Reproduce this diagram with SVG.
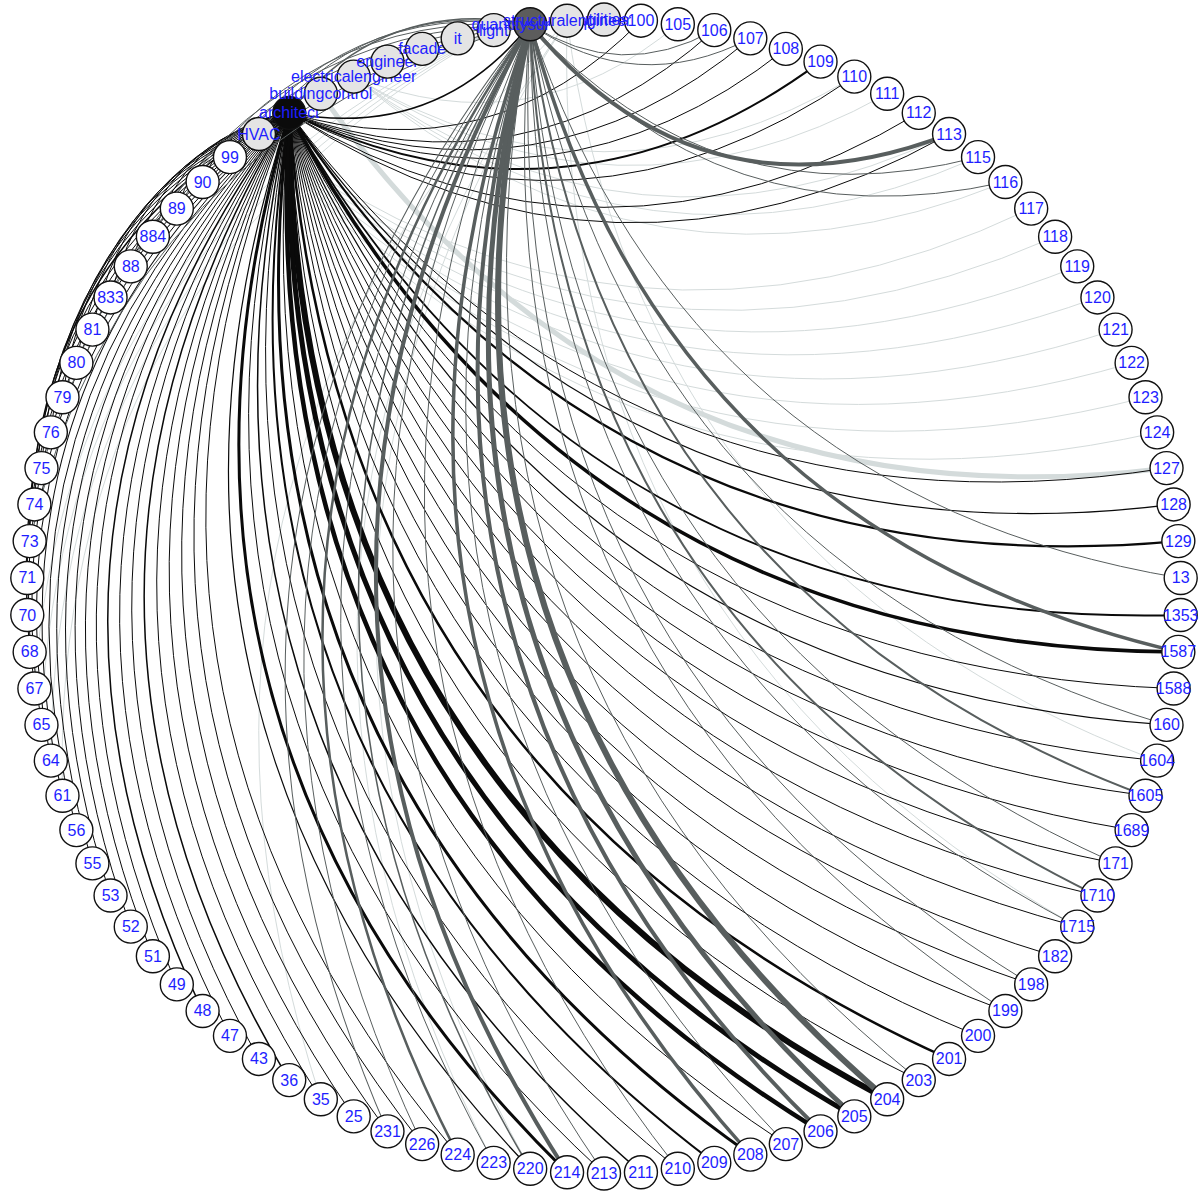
<svg xmlns="http://www.w3.org/2000/svg" width="1204" height="1196" viewBox="0 0 1204 1196">
<style>
.e path{fill:none;vector-effect:non-scaling-stroke}
.n circle{stroke:#111;stroke-width:1.4;fill:#fff}
.r circle{fill:#e4e4e4}
.arch circle{fill:#0b0b0b}
.qs circle{fill:#5c5c5c}
.n text{font-family:"Liberation Sans",Arial,sans-serif;font-size:16px;fill:#1e1eff;text-anchor:middle}
</style>
<rect width="1204" height="1196" fill="#fff"/>
<g id="connectors" class="e">
<g id="light-edges" stroke="#d4dbdb" stroke-width="1">
<g transform="translate(604 596.5) rotate(233.27) translate(577 0)">
<path d="M0 0Q.5 .3 1 0" transform="rotate(132.24)scale(775.8)"/>
<path d="M0 0Q.5 .3 1 0" transform="rotate(134.08)scale(802.8)"/>
<path d="M0 0Q.5 .3 1 0" transform="rotate(135.92)scale(829)"/>
<path d="M0 0Q.5 .3 1 0" transform="rotate(137.76)scale(854.3)"/>
<path d="M0 0Q.5 .3 1 0" transform="rotate(139.59)scale(878.7)"/>
<path d="M0 0Q.5 .3 1 0" transform="rotate(141.43)scale(902.2)"/>
<path d="M0 0Q.5 .3 1 0" transform="rotate(143.27)scale(924.8)"/>
<path d="M0 0Q.5 .3 1 0" transform="rotate(145.1)scale(946.5)"/>
</g>
<g transform="translate(604 596.5) rotate(244.29) translate(577 0)">
<path d="M0 0Q.5 .3 1 0" transform="rotate(106.53)scale(328.3)"/>
<path d="M0 0Q.5 .3 1 0" transform="rotate(115.71)scale(500.7)"/>
<path d="M0 0Q.5 .3 1 0" transform="rotate(117.55)scale(533.8)"/>
<path d="M0 0Q.5 .3 1 0" transform="rotate(121.22)scale(598.2)"/>
<path d="M0 0Q.5 .3 1 0" transform="rotate(123.06)scale(629.5)"/>
<path d="M0 0Q.5 .3 1 0" transform="rotate(124.9)scale(660.2)"/>
</g>
<g transform="translate(604 596.5) rotate(240.61) translate(577 0)">
<path d="M0 0Q.5 .3 1 0" transform="rotate(143.27)scale(924.8)" stroke-width="5"/>
</g>
<g transform="translate(604 596.5) rotate(266.33) translate(577 0)">
<path d="M0 0Q.5 .3 1 0" transform="rotate(145.1)scale(946.5)"/>
<path d="M0 0Q.5 .3 1 0" transform="rotate(154.29)scale(1039.7)"/>
<path d="M0 0Q.5 .3 1 0" transform="rotate(196.53)scale(1106.3)"/>
<path d="M0 0Q.5 .3 1 0" transform="rotate(187.35)scale(1144.5)"/>
<path d="M0 0Q.5 .3 1 0" transform="rotate(185.51)scale(1148.7)"/>
</g>
<g transform="translate(604 596.5) rotate(258.98) translate(577 0)">
<path d="M0 0Q.5 .3 1 0" transform="rotate(220.41)scale(878.7)"/>
<path d="M0 0Q.5 .3 1 0" transform="rotate(222.24)scale(854.3)"/>
<path d="M0 0Q.5 .3 1 0" transform="rotate(224.08)scale(829)"/>
<path d="M0 0Q.5 .3 1 0" transform="rotate(225.92)scale(802.8)"/>
</g>
</g>
<g id="architect-edges" stroke="#0a0a0a" stroke-width="1" transform="translate(604 596.5) rotate(236.94) translate(577 0)">
<path d="M0 0Q.5 .3 1 0" transform="rotate(108.37)scale(363.6)"/>
<path d="M0 0Q.5 .3 1 0" transform="rotate(112.04)scale(433.1)"/>
<path d="M0 0Q.5 .3 1 0" transform="rotate(113.88)scale(467.1)"/>
<path d="M0 0Q.5 .3 1 0" transform="rotate(115.71)scale(500.7)"/>
<path d="M0 0Q.5 .3 1 0" transform="rotate(117.55)scale(533.8)" stroke-width="2"/>
<path d="M0 0Q.5 .3 1 0" transform="rotate(119.39)scale(566.3)"/>
<path d="M0 0Q.5 .3 1 0" transform="rotate(123.06)scale(629.5)"/>
<path d="M0 0Q.5 .3 1 0" transform="rotate(124.9)scale(660.2)"/>
<path d="M0 0Q.5 .3 1 0" transform="rotate(145.1)scale(946.5)"/>
<path d="M0 0Q.5 .3 1 0" transform="rotate(146.94)scale(967.2)" stroke-width="1.2"/>
<path d="M0 0Q.5 .3 1 0" transform="rotate(148.78)scale(986.8)" stroke-width="2.2"/>
<path d="M0 0Q.5 .3 1 0" transform="rotate(152.45)scale(1023.1)" stroke-width="1.8"/>
<path d="M0 0Q.5 .3 1 0" transform="rotate(154.29)scale(1039.7)" stroke-width="3.5"/>
<path d="M0 0Q.5 .3 1 0" transform="rotate(156.12)scale(1055.2)"/>
<path d="M0 0Q.5 .3 1 0" transform="rotate(157.96)scale(1069.7)" stroke-width="1.2"/>
<path d="M0 0Q.5 .3 1 0" transform="rotate(159.8)scale(1083)"/>
<path d="M0 0Q.5 .3 1 0" transform="rotate(161.63)scale(1095.2)"/>
<path d="M0 0Q.5 .3 1 0" transform="rotate(163.47)scale(1106.3)"/>
<path d="M0 0Q.5 .3 1 0" transform="rotate(165.31)scale(1116.3)"/>
<path d="M0 0Q.5 .3 1 0" transform="rotate(167.14)scale(1125.1)"/>
<path d="M0 0Q.5 .3 1 0" transform="rotate(168.98)scale(1132.7)"/>
<path d="M0 0Q.5 .3 1 0" transform="rotate(170.82)scale(1139.2)"/>
<path d="M0 0Q.5 .3 1 0" transform="rotate(172.65)scale(1144.5)"/>
<path d="M0 0Q.5 .3 1 0" transform="rotate(174.49)scale(1148.7)"/>
<path d="M0 0Q.5 .3 1 0" transform="rotate(176.33)scale(1151.6)"/>
<path d="M0 0Q.5 .3 1 0" transform="rotate(178.16)scale(1153.4)" stroke-width="2.5"/>
<path d="M0 0Q.5 .3 1 0" transform="rotate(180)scale(1154)"/>
<path d="M0 0Q.5 .3 1 0" transform="rotate(181.84)scale(1153.4)" stroke-width="6"/>
<path d="M0 0Q.5 .3 1 0" transform="rotate(183.67)scale(1151.6)" stroke-width="5"/>
<path d="M0 0Q.5 .3 1 0" transform="rotate(185.51)scale(1148.7)" stroke-width="4.5"/>
<path d="M0 0Q.5 .3 1 0" transform="rotate(187.35)scale(1144.5)"/>
<path d="M0 0Q.5 .3 1 0" transform="rotate(189.18)scale(1139.2)" stroke-width="3"/>
<path d="M0 0Q.5 .3 1 0" transform="rotate(191.02)scale(1132.7)" stroke-width="2"/>
<path d="M0 0Q.5 .3 1 0" transform="rotate(192.86)scale(1125.1)"/>
<path d="M0 0Q.5 .3 1 0" transform="rotate(194.69)scale(1116.3)" stroke-width="1.5"/>
<path d="M0 0Q.5 .3 1 0" transform="rotate(196.53)scale(1106.3)"/>
<path d="M0 0Q.5 .3 1 0" transform="rotate(198.37)scale(1095.2)" stroke-width="3"/>
<path d="M0 0Q.5 .3 1 0" transform="rotate(200.2)scale(1083)" stroke-width="1.2"/>
<path d="M0 0Q.5 .3 1 0" transform="rotate(203.88)scale(1055.2)"/>
<path d="M0 0Q.5 .3 1 0" transform="rotate(205.71)scale(1039.7)"/>
<path d="M0 0Q.5 .3 1 0" transform="rotate(207.55)scale(1023.1)"/>
<path d="M0 0Q.5 .3 1 0" transform="rotate(209.39)scale(1005.5)"/>
<path d="M0 0Q.5 .3 1 0" transform="rotate(211.22)scale(986.8)"/>
<path d="M0 0Q.5 .3 1 0" transform="rotate(213.06)scale(967.2)" stroke-width="1.5"/>
<path d="M0 0Q.5 .3 1 0" transform="rotate(214.9)scale(946.5)"/>
<path d="M0 0Q.5 .3 1 0" transform="rotate(216.73)scale(924.8)"/>
<path d="M0 0Q.5 .3 1 0" transform="rotate(218.57)scale(902.2)" stroke-width="1.5"/>
<path d="M0 0Q.5 .3 1 0" transform="rotate(220.41)scale(878.7)"/>
<path d="M0 0Q.5 .3 1 0" transform="rotate(222.24)scale(854.3)"/>
<path d="M0 0Q.5 .3 1 0" transform="rotate(224.08)scale(829)"/>
<path d="M0 0Q.5 .3 1 0" transform="rotate(225.92)scale(802.8)"/>
<path d="M0 0Q.5 .3 1 0" transform="rotate(227.76)scale(775.8)"/>
<path d="M0 0Q.5 .3 1 0" transform="rotate(229.59)scale(748.1)"/>
<path d="M0 0Q.5 .3 1 0" transform="rotate(231.43)scale(719.5)"/>
<path d="M0 0Q.5 .3 1 0" transform="rotate(233.27)scale(690.2)"/>
<path d="M0 0Q.5 .3 1 0" transform="rotate(235.1)scale(660.2)"/>
<path d="M0 0Q.5 .3 1 0" transform="rotate(236.94)scale(629.5)"/>
<path d="M0 0Q.5 .3 1 0" transform="rotate(238.78)scale(598.2)"/>
<path d="M0 0Q.5 .3 1 0" transform="rotate(240.61)scale(566.3)"/>
<path d="M0 0Q.5 .3 1 0" transform="rotate(242.45)scale(533.8)"/>
<path d="M0 0Q.5 .3 1 0" transform="rotate(244.29)scale(500.7)" stroke-width="1.5"/>
<path d="M0 0Q.5 .3 1 0" transform="rotate(246.12)scale(467.1)"/>
<path d="M0 0Q.5 .3 1 0" transform="rotate(247.96)scale(433.1)"/>
<path d="M0 0Q.5 .3 1 0" transform="rotate(249.8)scale(398.6)"/>
<path d="M0 0Q.5 .3 1 0" transform="rotate(251.63)scale(363.6)"/>
<path d="M0 0Q.5 .3 1 0" transform="rotate(253.47)scale(328.3)"/>
<path d="M0 0Q.5 .3 1 0" transform="rotate(255.31)scale(292.7)"/>
<path d="M0 0Q.5 .3 1 0" transform="rotate(257.14)scale(256.8)"/>
<path d="M0 0Q.5 .3 1 0" transform="rotate(258.98)scale(220.6)"/>
<path d="M0 0Q.5 .3 1 0" transform="rotate(260.82)scale(184.2)"/>
<path d="M0 0Q.5 .3 1 0" transform="rotate(262.65)scale(147.6)"/>
<path d="M0 0Q.5 .3 1 0" transform="rotate(264.49)scale(110.8)"/>
<path d="M0 0Q.5 .3 1 0" transform="rotate(266.33)scale(73.9)"/>
<path d="M0 0Q.5 .3 1 0" transform="rotate(102.86)scale(256.8)" stroke-width="1.5"/>
</g>
<g id="quantitysurveyor-edges" stroke="#585e5e" stroke-width="1" transform="translate(604 596.5) rotate(262.65) translate(577 0)">
<path d="M0 0Q.5 .3 1 0" transform="rotate(99.18)scale(184.2)"/>
<path d="M0 0Q.5 .3 1 0" transform="rotate(101.02)scale(220.6)"/>
<path d="M0 0Q.5 .36 1 0" transform="rotate(112.04)scale(433.1)" stroke-width="4"/>
<path d="M0 0Q.5 .3 1 0" transform="rotate(113.88)scale(467.1)"/>
<path d="M0 0Q.5 .3 1 0" transform="rotate(115.71)scale(500.7)"/>
<path d="M0 0Q.5 .3 1 0" transform="rotate(137.76)scale(854.3)"/>
<path d="M0 0Q.5 .3 1 0" transform="rotate(141.43)scale(902.2)" stroke-width="3.5"/>
<path d="M0 0Q.5 .3 1 0" transform="rotate(145.1)scale(946.5)"/>
<path d="M0 0Q.5 .3 1 0" transform="rotate(148.78)scale(986.8)" stroke-width="2"/>
<path d="M0 0Q.5 .3 1 0" transform="rotate(152.45)scale(1023.1)"/>
<path d="M0 0Q.5 .3 1 0" transform="rotate(154.29)scale(1039.7)" stroke-width="2"/>
<path d="M0 0Q.5 .3 1 0" transform="rotate(156.12)scale(1055.2)"/>
<path d="M0 0Q.5 .3 1 0" transform="rotate(159.8)scale(1083)"/>
<path d="M0 0Q.5 .3 1 0" transform="rotate(161.63)scale(1095.2)"/>
<path d="M0 0Q.5 .3 1 0" transform="rotate(167.14)scale(1125.1)"/>
<path d="M0 0Q.5 .3 1 0" transform="rotate(168.98)scale(1132.7)" stroke-width="6"/>
<path d="M0 0Q.5 .3 1 0" transform="rotate(170.82)scale(1139.2)" stroke-width="5"/>
<path d="M0 0Q.5 .3 1 0" transform="rotate(172.65)scale(1144.5)" stroke-width="4"/>
<path d="M0 0Q.5 .3 1 0" transform="rotate(174.49)scale(1148.7)"/>
<path d="M0 0Q.5 .3 1 0" transform="rotate(176.33)scale(1151.6)" stroke-width="3.5"/>
<path d="M0 0Q.5 .3 1 0" transform="rotate(180)scale(1154)"/>
<path d="M0 0Q.5 .3 1 0" transform="rotate(183.67)scale(1151.6)"/>
<path d="M0 0Q.5 .3 1 0" transform="rotate(185.51)scale(1148.7)" stroke-width="4"/>
<path d="M0 0Q.5 .3 1 0" transform="rotate(187.35)scale(1144.5)" stroke-width="1.5"/>
<path d="M0 0Q.5 .3 1 0" transform="rotate(189.18)scale(1139.2)"/>
<path d="M0 0Q.5 .3 1 0" transform="rotate(191.02)scale(1132.7)" stroke-width="2.5"/>
<path d="M0 0Q.5 .3 1 0" transform="rotate(192.86)scale(1125.1)"/>
<path d="M0 0Q.5 .3 1 0" transform="rotate(194.69)scale(1116.3)"/>
<path d="M0 0Q.5 .3 1 0" transform="rotate(231.43)scale(719.5)"/>
<path d="M0 0Q.5 .3 1 0" transform="rotate(235.1)scale(660.2)"/>
<path d="M0 0Q.5 .3 1 0" transform="rotate(238.78)scale(598.2)"/>
<path d="M0 0Q.5 .3 1 0" transform="rotate(242.45)scale(533.8)"/>
<path d="M0 0Q.5 .3 1 0" transform="rotate(246.12)scale(467.1)"/>
<path d="M0 0Q.5 .3 1 0" transform="rotate(249.8)scale(398.6)"/>
<path d="M0 0Q.5 .3 1 0" transform="rotate(253.47)scale(328.3)"/>
<path d="M0 0Q.5 .3 1 0" transform="rotate(255.31)scale(292.7)"/>
<path d="M0 0Q.5 .3 1 0" transform="rotate(257.14)scale(256.8)" stroke-width="1.5"/>
</g>
</g>
<g id="nodes">
<g id="n100" class="n" transform="translate(604 596.5) rotate(-86.33) translate(577 0) rotate(86.33)"><circle r="16.5"/><text y="5.5">100</text></g>
<g id="n105" class="n" transform="translate(604 596.5) rotate(-82.65) translate(577 0) rotate(82.65)"><circle r="16.5"/><text y="5.5">105</text></g>
<g id="n106" class="n" transform="translate(604 596.5) rotate(-78.98) translate(577 0) rotate(78.98)"><circle r="16.5"/><text y="5.5">106</text></g>
<g id="n107" class="n" transform="translate(604 596.5) rotate(-75.31) translate(577 0) rotate(75.31)"><circle r="16.5"/><text y="5.5">107</text></g>
<g id="n108" class="n" transform="translate(604 596.5) rotate(-71.63) translate(577 0) rotate(71.63)"><circle r="16.5"/><text y="5.5">108</text></g>
<g id="n109" class="n" transform="translate(604 596.5) rotate(-67.96) translate(577 0) rotate(67.96)"><circle r="16.5"/><text y="5.5">109</text></g>
<g id="n110" class="n" transform="translate(604 596.5) rotate(-64.29) translate(577 0) rotate(64.29)"><circle r="16.5"/><text y="5.5">110</text></g>
<g id="n111" class="n" transform="translate(604 596.5) rotate(-60.61) translate(577 0) rotate(60.61)"><circle r="16.5"/><text y="5.5">111</text></g>
<g id="n112" class="n" transform="translate(604 596.5) rotate(-56.94) translate(577 0) rotate(56.94)"><circle r="16.5"/><text y="5.5">112</text></g>
<g id="n113" class="n" transform="translate(604 596.5) rotate(-53.27) translate(577 0) rotate(53.27)"><circle r="16.5"/><text y="5.5">113</text></g>
<g id="n115" class="n" transform="translate(604 596.5) rotate(-49.59) translate(577 0) rotate(49.59)"><circle r="16.5"/><text y="5.5">115</text></g>
<g id="n116" class="n" transform="translate(604 596.5) rotate(-45.92) translate(577 0) rotate(45.92)"><circle r="16.5"/><text y="5.5">116</text></g>
<g id="n117" class="n" transform="translate(604 596.5) rotate(-42.24) translate(577 0) rotate(42.24)"><circle r="16.5"/><text y="5.5">117</text></g>
<g id="n118" class="n" transform="translate(604 596.5) rotate(-38.57) translate(577 0) rotate(38.57)"><circle r="16.5"/><text y="5.5">118</text></g>
<g id="n119" class="n" transform="translate(604 596.5) rotate(-34.9) translate(577 0) rotate(34.9)"><circle r="16.5"/><text y="5.5">119</text></g>
<g id="n120" class="n" transform="translate(604 596.5) rotate(-31.22) translate(577 0) rotate(31.22)"><circle r="16.5"/><text y="5.5">120</text></g>
<g id="n121" class="n" transform="translate(604 596.5) rotate(-27.55) translate(577 0) rotate(27.55)"><circle r="16.5"/><text y="5.5">121</text></g>
<g id="n122" class="n" transform="translate(604 596.5) rotate(-23.88) translate(577 0) rotate(23.88)"><circle r="16.5"/><text y="5.5">122</text></g>
<g id="n123" class="n" transform="translate(604 596.5) rotate(-20.2) translate(577 0) rotate(20.2)"><circle r="16.5"/><text y="5.5">123</text></g>
<g id="n124" class="n" transform="translate(604 596.5) rotate(-16.53) translate(577 0) rotate(16.53)"><circle r="16.5"/><text y="5.5">124</text></g>
<g id="n127" class="n" transform="translate(604 596.5) rotate(-12.86) translate(577 0) rotate(12.86)"><circle r="16.5"/><text y="5.5">127</text></g>
<g id="n128" class="n" transform="translate(604 596.5) rotate(-9.18) translate(577 0) rotate(9.18)"><circle r="16.5"/><text y="5.5">128</text></g>
<g id="n129" class="n" transform="translate(604 596.5) rotate(-5.51) translate(577 0) rotate(5.51)"><circle r="16.5"/><text y="5.5">129</text></g>
<g id="n13" class="n" transform="translate(604 596.5) rotate(-1.84) translate(577 0) rotate(1.84)"><circle r="16.5"/><text y="5.5">13</text></g>
<g id="n1353" class="n" transform="translate(604 596.5) rotate(1.84) translate(577 0) rotate(-1.84)"><circle r="16.5"/><text y="5.5">1353</text></g>
<g id="n1587" class="n" transform="translate(604 596.5) rotate(5.51) translate(577 0) rotate(-5.51)"><circle r="16.5"/><text y="5.5">1587</text></g>
<g id="n1588" class="n" transform="translate(604 596.5) rotate(9.18) translate(577 0) rotate(-9.18)"><circle r="16.5"/><text y="5.5">1588</text></g>
<g id="n160" class="n" transform="translate(604 596.5) rotate(12.86) translate(577 0) rotate(-12.86)"><circle r="16.5"/><text y="5.5">160</text></g>
<g id="n1604" class="n" transform="translate(604 596.5) rotate(16.53) translate(577 0) rotate(-16.53)"><circle r="16.5"/><text y="5.5">1604</text></g>
<g id="n1605" class="n" transform="translate(604 596.5) rotate(20.2) translate(577 0) rotate(-20.2)"><circle r="16.5"/><text y="5.5">1605</text></g>
<g id="n1689" class="n" transform="translate(604 596.5) rotate(23.88) translate(577 0) rotate(-23.88)"><circle r="16.5"/><text y="5.5">1689</text></g>
<g id="n171" class="n" transform="translate(604 596.5) rotate(27.55) translate(577 0) rotate(-27.55)"><circle r="16.5"/><text y="5.5">171</text></g>
<g id="n1710" class="n" transform="translate(604 596.5) rotate(31.22) translate(577 0) rotate(-31.22)"><circle r="16.5"/><text y="5.5">1710</text></g>
<g id="n1715" class="n" transform="translate(604 596.5) rotate(34.9) translate(577 0) rotate(-34.9)"><circle r="16.5"/><text y="5.5">1715</text></g>
<g id="n182" class="n" transform="translate(604 596.5) rotate(38.57) translate(577 0) rotate(-38.57)"><circle r="16.5"/><text y="5.5">182</text></g>
<g id="n198" class="n" transform="translate(604 596.5) rotate(42.24) translate(577 0) rotate(-42.24)"><circle r="16.5"/><text y="5.5">198</text></g>
<g id="n199" class="n" transform="translate(604 596.5) rotate(45.92) translate(577 0) rotate(-45.92)"><circle r="16.5"/><text y="5.5">199</text></g>
<g id="n200" class="n" transform="translate(604 596.5) rotate(49.59) translate(577 0) rotate(-49.59)"><circle r="16.5"/><text y="5.5">200</text></g>
<g id="n201" class="n" transform="translate(604 596.5) rotate(53.27) translate(577 0) rotate(-53.27)"><circle r="16.5"/><text y="5.5">201</text></g>
<g id="n203" class="n" transform="translate(604 596.5) rotate(56.94) translate(577 0) rotate(-56.94)"><circle r="16.5"/><text y="5.5">203</text></g>
<g id="n204" class="n" transform="translate(604 596.5) rotate(60.61) translate(577 0) rotate(-60.61)"><circle r="16.5"/><text y="5.5">204</text></g>
<g id="n205" class="n" transform="translate(604 596.5) rotate(64.29) translate(577 0) rotate(-64.29)"><circle r="16.5"/><text y="5.5">205</text></g>
<g id="n206" class="n" transform="translate(604 596.5) rotate(67.96) translate(577 0) rotate(-67.96)"><circle r="16.5"/><text y="5.5">206</text></g>
<g id="n207" class="n" transform="translate(604 596.5) rotate(71.63) translate(577 0) rotate(-71.63)"><circle r="16.5"/><text y="5.5">207</text></g>
<g id="n208" class="n" transform="translate(604 596.5) rotate(75.31) translate(577 0) rotate(-75.31)"><circle r="16.5"/><text y="5.5">208</text></g>
<g id="n209" class="n" transform="translate(604 596.5) rotate(78.98) translate(577 0) rotate(-78.98)"><circle r="16.5"/><text y="5.5">209</text></g>
<g id="n210" class="n" transform="translate(604 596.5) rotate(82.65) translate(577 0) rotate(-82.65)"><circle r="16.5"/><text y="5.5">210</text></g>
<g id="n211" class="n" transform="translate(604 596.5) rotate(86.33) translate(577 0) rotate(-86.33)"><circle r="16.5"/><text y="5.5">211</text></g>
<g id="n213" class="n" transform="translate(604 596.5) rotate(90) translate(577 0) rotate(-90)"><circle r="16.5"/><text y="5.5">213</text></g>
<g id="n214" class="n" transform="translate(604 596.5) rotate(93.67) translate(577 0) rotate(-93.67)"><circle r="16.5"/><text y="5.5">214</text></g>
<g id="n220" class="n" transform="translate(604 596.5) rotate(97.35) translate(577 0) rotate(-97.35)"><circle r="16.5"/><text y="5.5">220</text></g>
<g id="n223" class="n" transform="translate(604 596.5) rotate(101.02) translate(577 0) rotate(-101.02)"><circle r="16.5"/><text y="5.5">223</text></g>
<g id="n224" class="n" transform="translate(604 596.5) rotate(104.69) translate(577 0) rotate(-104.69)"><circle r="16.5"/><text y="5.5">224</text></g>
<g id="n226" class="n" transform="translate(604 596.5) rotate(108.37) translate(577 0) rotate(-108.37)"><circle r="16.5"/><text y="5.5">226</text></g>
<g id="n231" class="n" transform="translate(604 596.5) rotate(112.04) translate(577 0) rotate(-112.04)"><circle r="16.5"/><text y="5.5">231</text></g>
<g id="n25" class="n" transform="translate(604 596.5) rotate(115.71) translate(577 0) rotate(-115.71)"><circle r="16.5"/><text y="5.5">25</text></g>
<g id="n35" class="n" transform="translate(604 596.5) rotate(119.39) translate(577 0) rotate(-119.39)"><circle r="16.5"/><text y="5.5">35</text></g>
<g id="n36" class="n" transform="translate(604 596.5) rotate(123.06) translate(577 0) rotate(-123.06)"><circle r="16.5"/><text y="5.5">36</text></g>
<g id="n43" class="n" transform="translate(604 596.5) rotate(126.73) translate(577 0) rotate(-126.73)"><circle r="16.5"/><text y="5.5">43</text></g>
<g id="n47" class="n" transform="translate(604 596.5) rotate(130.41) translate(577 0) rotate(-130.41)"><circle r="16.5"/><text y="5.5">47</text></g>
<g id="n48" class="n" transform="translate(604 596.5) rotate(134.08) translate(577 0) rotate(-134.08)"><circle r="16.5"/><text y="5.5">48</text></g>
<g id="n49" class="n" transform="translate(604 596.5) rotate(137.76) translate(577 0) rotate(-137.76)"><circle r="16.5"/><text y="5.5">49</text></g>
<g id="n51" class="n" transform="translate(604 596.5) rotate(141.43) translate(577 0) rotate(-141.43)"><circle r="16.5"/><text y="5.5">51</text></g>
<g id="n52" class="n" transform="translate(604 596.5) rotate(145.1) translate(577 0) rotate(-145.1)"><circle r="16.5"/><text y="5.5">52</text></g>
<g id="n53" class="n" transform="translate(604 596.5) rotate(148.78) translate(577 0) rotate(-148.78)"><circle r="16.5"/><text y="5.5">53</text></g>
<g id="n55" class="n" transform="translate(604 596.5) rotate(152.45) translate(577 0) rotate(-152.45)"><circle r="16.5"/><text y="5.5">55</text></g>
<g id="n56" class="n" transform="translate(604 596.5) rotate(156.12) translate(577 0) rotate(-156.12)"><circle r="16.5"/><text y="5.5">56</text></g>
<g id="n61" class="n" transform="translate(604 596.5) rotate(159.8) translate(577 0) rotate(-159.8)"><circle r="16.5"/><text y="5.5">61</text></g>
<g id="n64" class="n" transform="translate(604 596.5) rotate(163.47) translate(577 0) rotate(-163.47)"><circle r="16.5"/><text y="5.5">64</text></g>
<g id="n65" class="n" transform="translate(604 596.5) rotate(167.14) translate(577 0) rotate(-167.14)"><circle r="16.5"/><text y="5.5">65</text></g>
<g id="n67" class="n" transform="translate(604 596.5) rotate(170.82) translate(577 0) rotate(-170.82)"><circle r="16.5"/><text y="5.5">67</text></g>
<g id="n68" class="n" transform="translate(604 596.5) rotate(174.49) translate(577 0) rotate(-174.49)"><circle r="16.5"/><text y="5.5">68</text></g>
<g id="n70" class="n" transform="translate(604 596.5) rotate(178.16) translate(577 0) rotate(-178.16)"><circle r="16.5"/><text y="5.5">70</text></g>
<g id="n71" class="n" transform="translate(604 596.5) rotate(181.84) translate(577 0) rotate(-181.84)"><circle r="16.5"/><text y="5.5">71</text></g>
<g id="n73" class="n" transform="translate(604 596.5) rotate(185.51) translate(577 0) rotate(-185.51)"><circle r="16.5"/><text y="5.5">73</text></g>
<g id="n74" class="n" transform="translate(604 596.5) rotate(189.18) translate(577 0) rotate(-189.18)"><circle r="16.5"/><text y="5.5">74</text></g>
<g id="n75" class="n" transform="translate(604 596.5) rotate(192.86) translate(577 0) rotate(-192.86)"><circle r="16.5"/><text y="5.5">75</text></g>
<g id="n76" class="n" transform="translate(604 596.5) rotate(196.53) translate(577 0) rotate(-196.53)"><circle r="16.5"/><text y="5.5">76</text></g>
<g id="n79" class="n" transform="translate(604 596.5) rotate(200.2) translate(577 0) rotate(-200.2)"><circle r="16.5"/><text y="5.5">79</text></g>
<g id="n80" class="n" transform="translate(604 596.5) rotate(203.88) translate(577 0) rotate(-203.88)"><circle r="16.5"/><text y="5.5">80</text></g>
<g id="n81" class="n" transform="translate(604 596.5) rotate(207.55) translate(577 0) rotate(-207.55)"><circle r="16.5"/><text y="5.5">81</text></g>
<g id="n833" class="n" transform="translate(604 596.5) rotate(211.22) translate(577 0) rotate(-211.22)"><circle r="16.5"/><text y="5.5">833</text></g>
<g id="n88" class="n" transform="translate(604 596.5) rotate(214.9) translate(577 0) rotate(-214.9)"><circle r="16.5"/><text y="5.5">88</text></g>
<g id="n884" class="n" transform="translate(604 596.5) rotate(218.57) translate(577 0) rotate(-218.57)"><circle r="16.5"/><text y="5.5">884</text></g>
<g id="n89" class="n" transform="translate(604 596.5) rotate(222.24) translate(577 0) rotate(-222.24)"><circle r="16.5"/><text y="5.5">89</text></g>
<g id="n90" class="n" transform="translate(604 596.5) rotate(225.92) translate(577 0) rotate(-225.92)"><circle r="16.5"/><text y="5.5">90</text></g>
<g id="n99" class="n" transform="translate(604 596.5) rotate(229.59) translate(577 0) rotate(-229.59)"><circle r="16.5"/><text y="5.5">99</text></g>
<g id="nHVAC" class="n r" transform="translate(604 596.5) rotate(233.27) translate(577 0) rotate(-233.27)"><circle r="16.5"/><text y="5.5">HVAC</text></g>
<g id="narchitect" class="n arch" transform="translate(604 596.5) rotate(236.94) translate(577 0) rotate(-236.94)"><circle r="16.5"/><text y="5.5">architect</text></g>
<g id="nbuildingcontrol" class="n r" transform="translate(604 596.5) rotate(240.61) translate(577 0) rotate(-240.61)"><circle r="16.5"/><text y="5.5">buildingcontrol</text></g>
<g id="nelectricalengineer" class="n r" transform="translate(604 596.5) rotate(244.29) translate(577 0) rotate(-244.29)"><circle r="16.5"/><text y="5.5">electricalengineer</text></g>
<g id="nengineer" class="n r" transform="translate(604 596.5) rotate(247.96) translate(577 0) rotate(-247.96)"><circle r="16.5"/><text y="5.5">engineer</text></g>
<g id="nfacade" class="n r" transform="translate(604 596.5) rotate(251.63) translate(577 0) rotate(-251.63)"><circle r="16.5"/><text y="5.5">facade</text></g>
<g id="nit" class="n r" transform="translate(604 596.5) rotate(255.31) translate(577 0) rotate(-255.31)"><circle r="16.5"/><text y="5.5">it</text></g>
<g id="nlight" class="n r" transform="translate(604 596.5) rotate(258.98) translate(577 0) rotate(-258.98)"><circle r="16.5"/><text y="5.5">light</text></g>
<g id="nutilities" class="n r" transform="translate(604 596.5) rotate(270) translate(577 0) rotate(-270)"><circle r="16.5"/><text y="5.5">utilities</text></g>
<g id="nquantitysurveyor" class="n qs" transform="translate(604 596.5) rotate(262.65) translate(577 0) rotate(-262.65)"><circle r="16.5"/><text y="5.5">quantitysurveyor</text></g>
<g id="nstructuralengineer" class="n r" transform="translate(604 596.5) rotate(266.33) translate(577 0) rotate(-266.33)"><circle r="16.5"/><text y="5.5">structuralengineer</text></g>
</g>
</svg>
